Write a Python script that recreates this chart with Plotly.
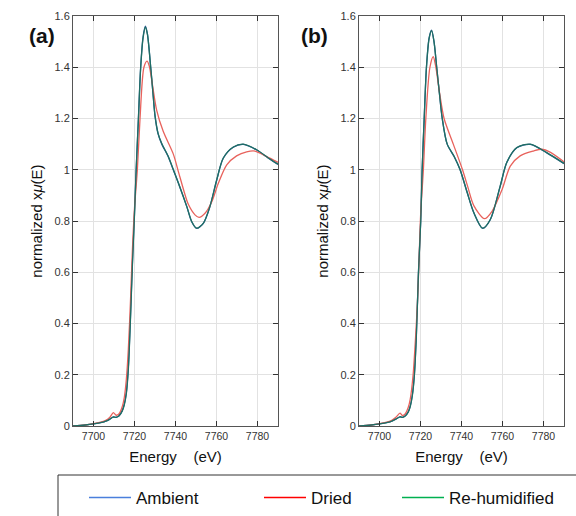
import plotly.graph_objects as go

# ---------------- data ----------------
# Panel (a)
a_amb_E = [7690, 7696, 7700, 7704, 7706, 7708, 7709.5, 7711, 7712.5, 7714, 7715, 7716, 7717, 7718, 7719, 7720,
           7720.8, 7721.9, 7723, 7724.2, 7725.3, 7726.3, 7727.9, 7729, 7730, 7731.5, 7733.3, 7736.5, 7738.9,
           7742, 7745.5, 7747.9, 7750.3, 7753.6, 7756.8, 7760.1, 7763.3, 7768.2, 7773.1, 7779.6, 7785.3, 7790]
a_amb_v = [0.000, 0.004, 0.008, 0.014, 0.019, 0.027, 0.035, 0.034, 0.040, 0.060, 0.085, 0.130, 0.230, 0.420, 0.640, 0.830,
           1.000, 1.200, 1.400, 1.520, 1.560, 1.530, 1.400, 1.300, 1.210, 1.140, 1.100, 1.050, 1.000,
           0.935, 0.856, 0.797, 0.771, 0.791, 0.856, 0.960, 1.045, 1.088, 1.099, 1.077, 1.045, 1.021]
a_reh_E = a_amb_E
a_reh_v = [0.000, 0.004, 0.008, 0.014, 0.019, 0.027, 0.035, 0.034, 0.040, 0.058, 0.082, 0.125, 0.222, 0.410, 0.632, 0.825,
           0.995, 1.195, 1.395, 1.515, 1.556, 1.528, 1.400, 1.300, 1.212, 1.142, 1.102, 1.052, 1.002,
           0.936, 0.857, 0.798, 0.772, 0.792, 0.857, 0.960, 1.046, 1.089, 1.100, 1.078, 1.046, 1.022]
a_dry_E = [7690, 7696, 7700, 7704, 7706, 7708, 7709.7, 7711, 7712.5, 7714, 7715, 7716, 7717, 7718, 7719, 7720,
           7721.4, 7722.7, 7724.6, 7726.1, 7727.2, 7728.4, 7730.8, 7734.0, 7738.9, 7741.5, 7744, 7746.2,
           7749.5, 7751.5, 7754.4, 7757.7, 7760.9, 7765, 7769.8, 7774.7, 7778.8, 7784.5, 7790]
a_dry_v = [0.000, 0.004, 0.009, 0.016, 0.022, 0.034, 0.052, 0.042, 0.048, 0.075, 0.110, 0.180, 0.300, 0.480, 0.690, 0.850,
           1.000, 1.200, 1.400, 1.424, 1.405, 1.350, 1.233, 1.150, 1.062, 0.990, 0.920, 0.866,
           0.824, 0.814, 0.830, 0.875, 0.947, 1.019, 1.054, 1.070, 1.073, 1.051, 1.029]

# Panel (b)
b_amb_E = [7690, 7696, 7700, 7704, 7706, 7708, 7710, 7711.2, 7712.5, 7714, 7715, 7716, 7717, 7718, 7719, 7720.1,
           7720.8, 7721.8, 7722.9, 7724.2, 7725.4, 7726.6, 7727.9, 7729.2, 7730.6, 7733, 7736.5, 7739.3,
           7742.8, 7746, 7750.3, 7754.1, 7758.9, 7762.1, 7767, 7773.5, 7781.6, 7790]
b_amb_v = [0.000, 0.004, 0.008, 0.014, 0.019, 0.027, 0.036, 0.034, 0.039, 0.055, 0.078, 0.120, 0.200, 0.360, 0.600, 0.800,
           1.000, 1.200, 1.400, 1.515, 1.545, 1.500, 1.400, 1.300, 1.200, 1.100, 1.050, 1.000,
           0.910, 0.832, 0.771, 0.806, 0.936, 1.028, 1.086, 1.099, 1.066, 1.024]
b_reh_E = b_amb_E
b_reh_v = [0.000, 0.004, 0.008, 0.014, 0.019, 0.027, 0.036, 0.034, 0.039, 0.054, 0.076, 0.117, 0.196, 0.355, 0.595, 0.797,
           0.998, 1.198, 1.398, 1.512, 1.543, 1.499, 1.400, 1.301, 1.201, 1.101, 1.051, 1.001,
           0.911, 0.833, 0.772, 0.807, 0.937, 1.029, 1.087, 1.100, 1.067, 1.025]
b_dry_E = [7690, 7696, 7700, 7704, 7706, 7708, 7710, 7711.2, 7712.5, 7714, 7715, 7716.4, 7717.4, 7718.5, 7719.3, 7720.1,
           7721.4, 7722.6, 7724.6, 7726.2, 7727.5, 7729.3, 7731.5, 7736.0, 7740.5, 7743, 7746,
           7751.2, 7754.9, 7759.8, 7763.8, 7768.6, 7775.1, 7779.2, 7783.2, 7790]
b_dry_v = [0.000, 0.004, 0.009, 0.016, 0.022, 0.034, 0.050, 0.041, 0.047, 0.072, 0.105, 0.200, 0.320, 0.480, 0.650, 0.830,
           1.000, 1.200, 1.400, 1.441, 1.400, 1.300, 1.200, 1.100, 1.000, 0.935, 0.860,
           0.809, 0.838, 0.923, 1.014, 1.054, 1.073, 1.080, 1.069, 1.031]

series_names = ["Ambient", "Dried", "Re-humidified"]
legend_colors = ["#4a7fdc", "#ff0000", "#00b050"]
plot_colors = {"Ambient": "#2e5f96", "Dried": "#e8625c", "Re-humidified": "#1f6e64"}

x_ticks = [7700, 7720, 7740, 7760, 7780]
y_ticks = [0, 0.2, 0.4, 0.6, 0.8, 1.0, 1.2, 1.4, 1.6]
y_ticktext = ["0", "0.2", "0.4", "0.6", "0.8", "1", "1.2", "1.4", "1.6"]
panel_labels = ["(a)", "(b)"]

# ---------------- figure ----------------
W, H = 576, 516
FONT = "Liberation Sans, Arial, sans-serif"
fig = go.Figure()

panels = [
    ("x", "y", [(a_amb_E, a_amb_v, "Ambient"), (a_dry_E, a_dry_v, "Dried"), (a_reh_E, a_reh_v, "Re-humidified")]),
    ("x2", "y2", [(b_amb_E, b_amb_v, "Ambient"), (b_dry_E, b_dry_v, "Dried"), (b_reh_E, b_reh_v, "Re-humidified")]),
]
for xa, ya, traces in panels:
    for E, v, name in traces:
        fig.add_trace(go.Scatter(
            x=E, y=v, xaxis=xa, yaxis=ya, mode="lines", name=name, showlegend=False,
            line=dict(color=plot_colors[name], width=1.3, shape="spline", smoothing=0.8),
            hoverinfo="skip"))

# legend entries (one legend each so that they can be spaced like the reference)
legend_text_x = [136, 311, 449]
ITEMW = 42
for i, (name, col) in enumerate(zip(series_names, legend_colors)):
    fig.add_trace(go.Scatter(x=[None], y=[None], mode="lines", name=name,
                             line=dict(color=col, width=1.5),
                             legend="legend" if i == 0 else f"legend{i+1}"))

leg_common = dict(orientation="h", xref="container", yref="container", xanchor="left", yanchor="middle",
                  y=1 - 498 / H, font=dict(family=FONT, size=17, color="#111"), bgcolor="rgba(0,0,0,0)",
                  borderwidth=0, itemwidth=ITEMW)
layout_legends = {}
for i in range(3):
    key = "legend" if i == 0 else f"legend{i+1}"
    layout_legends[key] = dict(leg_common, x=(legend_text_x[i] - ITEMW - 10) / W)

axis_common = dict(range=[7690, 7790], tickvals=x_ticks, ticks="inside", ticklen=5, tickcolor="#333",
                   showline=True, linecolor="#555", linewidth=1, mirror="ticks", showgrid=True,
                   gridcolor="#e2e2e2", gridwidth=1, zeroline=False, automargin=False,
                   tickfont=dict(family=FONT, size=10.5, color="#333"),
                   title=dict(text="Energy\u00a0\u00a0\u00a0\u00a0(eV)", font=dict(family=FONT, size=15, color="#111"),
                              standoff=10))
yaxis_common = dict(range=[0, 1.6], tickvals=y_ticks, ticktext=y_ticktext, ticks="inside", ticklen=5, tickcolor="#333",
                    showline=True, linecolor="#555", linewidth=1, mirror="ticks", showgrid=True,
                    gridcolor="#e2e2e2", gridwidth=1, zeroline=False, automargin=False,
                    tickfont=dict(family=FONT, size=11, color="#333"),
                    title=dict(text="normalized x<i>\u03bc</i>(E)", font=dict(family=FONT, size=15, color="#111"),
                               standoff=8))

ydom = [1 - 426 / H, 1 - 16 / H]
fig.update_layout(
    width=W, height=H, margin=dict(l=0, r=0, t=0, b=0, autoexpand=False),
    paper_bgcolor="white", plot_bgcolor="white",
    xaxis=dict(axis_common, domain=[73 / W, 278 / W], anchor="y"),
    yaxis=dict(yaxis_common, domain=ydom, anchor="x"),
    xaxis2=dict(axis_common, domain=[359 / W, 564 / W], anchor="y2"),
    yaxis2=dict(yaxis_common, domain=ydom, anchor="x2"),
    **layout_legends,
    annotations=[
        dict(text="<b>" + panel_labels[0] + "</b>", x=27 / W, y=1 - 22 / H, xref="paper", yref="paper",
             showarrow=False, font=dict(family=FONT, size=21, color="#111")),
        dict(text="<b>" + panel_labels[1] + "</b>", x=314 / W, y=1 - 22 / H, xref="paper", yref="paper",
             showarrow=False, font=dict(family=FONT, size=21, color="#111")),
    ],
    shapes=[dict(type="rect", xref="paper", yref="paper", x0=58 / W, x1=1.05, y0=-0.05, y1=1 - 475 / H,
                 line=dict(color="#333", width=1), fillcolor="rgba(0,0,0,0)")],
)

fig.write_html("out.html", config={"displayModeBar": False},
               post_script="document.body.style.margin='0px';")
